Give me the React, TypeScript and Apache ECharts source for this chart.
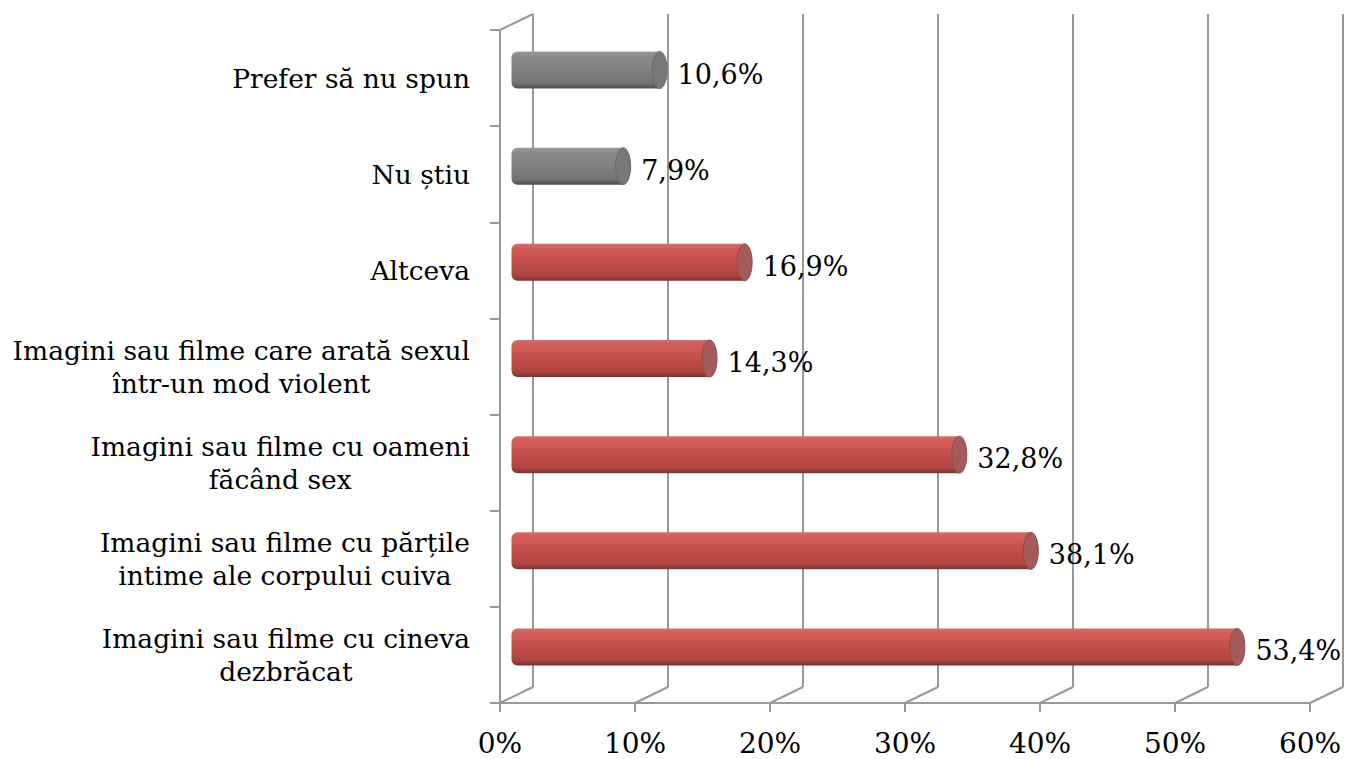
import React, { useEffect, useRef } from "react";
import * as echarts from "echarts";

const categories: string[] = [
  "Prefer să nu spun",
  "Nu știu",
  "Altceva",
  "Imagini sau filme care arată sexul\nîntr-un mod violent",
  "Imagini sau filme cu oameni\nfăcând sex",
  "Imagini sau filme cu părțile\nintime ale corpului cuiva",
  "Imagini sau filme cu cineva\ndezbrăcat",
];
const values: number[] = [10.6, 7.9, 16.9, 14.3, 32.8, 38.1, 53.4];
const isGrey: boolean[] = [true, true, false, false, false, false, false];
const xTicks: number[] = [0, 10, 20, 30, 40, 50, 60];

const FONT = "DejaVu Serif";
const LINE = "#999999";
const DX = 33;
const DY = 16;

export default function App() {
  const ref = useRef<HTMLDivElement>(null);
  useEffect(() => {
    if (!ref.current) return;
    const chart = echarts.init(ref.current, null, { renderer: "svg" });
    const fmt = (v: number) => v.toFixed(1).replace(".", ",") + "%";
    const redGrad = new echarts.graphic.LinearGradient(0, 0, 0, 1, [
      { offset: 0, color: "#d26c68" },
      { offset: 0.12, color: "#d35d59" },
      { offset: 0.5, color: "#c24f4c" },
      { offset: 0.85, color: "#ad4542" },
      { offset: 1, color: "#7a3230" },
    ]);
    const greyGrad = new echarts.graphic.LinearGradient(0, 0, 0, 1, [
      { offset: 0, color: "#9a9a9a" },
      { offset: 0.12, color: "#8c8c8c" },
      { offset: 0.5, color: "#808080" },
      { offset: 0.85, color: "#737373" },
      { offset: 1, color: "#4f4f4f" },
    ]);
    const option: any = {
      animation: false,
      backgroundColor: "#ffffff",
      grid: [
        { left: 500, top: 30, width: 810, height: 673 },
        { left: 500 + DX, top: 30 - DY, width: 810, height: 673 },
        { left: 500 + DX / 2, top: 30 - DY / 2, width: 810, height: 673 },
      ],
      xAxis: [
        {
          gridIndex: 0,
          type: "value",
          min: 0,
          max: 60,
          interval: 10,
          axisLine: { show: true, lineStyle: { color: LINE, width: 2 } },
          axisTick: { show: true, length: 9, lineStyle: { color: LINE, width: 2 } },
          splitLine: { show: false },
          axisLabel: {
            formatter: "{value}%",
            fontFamily: FONT,
            fontSize: 28,
            color: "#000",
            margin: 26,
          },
        },
        {
          gridIndex: 1,
          type: "value",
          min: 0,
          max: 60,
          interval: 10,
          axisLine: { show: false },
          axisTick: { show: false },
          axisLabel: { show: false },
          splitLine: { show: true, lineStyle: { color: LINE, width: 2 } },
        },
        {
          gridIndex: 2,
          type: "value",
          min: 0,
          max: 60,
          interval: 10,
          show: false,
        },
      ],
      yAxis: [
        {
          gridIndex: 0,
          type: "category",
          data: categories,
          inverse: true,
          axisLine: { show: true, lineStyle: { color: LINE, width: 2 } },
          axisTick: { show: true, length: 10, lineStyle: { color: LINE, width: 2 } },
          axisLabel: {
            margin: 30,
            color: "#000",
            fontFamily: FONT,
            fontSize: 26.5,
            lineHeight: 33,
            formatter: (s: string) =>
              s
                .split("\n")
                .map((l) => "{c|" + l + "}")
                .join("\n"),
            rich: {
              c: {
                align: "center",
                fontFamily: FONT,
                fontSize: 26.5,
                lineHeight: 33,
                color: "#000",
              },
            },
          },
        },
        {
          gridIndex: 1,
          type: "category",
          data: categories,
          inverse: true,
          show: false,
        },
        {
          gridIndex: 2,
          type: "category",
          data: categories,
          inverse: true,
          show: false,
        },
      ],
      series: [
        {
          type: "custom",
          xAxisIndex: 0,
          yAxisIndex: 0,
          silent: true,
          data: xTicks.map((t) => [t, 0]),
          encode: { x: 0, y: 1 },
          renderItem: (params: any, api: any) => {
            const p = api.coord([api.value(0), 0]);
            const cs = params.coordSys;
            const bottom = cs.y + cs.height;
            const children: any[] = [
              {
                type: "line",
                shape: { x1: p[0], y1: bottom, x2: p[0] + DX, y2: bottom - DY },
                style: { stroke: LINE, lineWidth: 2 },
              },
            ];
            if (params.dataIndex === 0) {
              children.push({
                type: "line",
                shape: { x1: cs.x, y1: cs.y, x2: cs.x + DX, y2: cs.y - DY },
                style: { stroke: LINE, lineWidth: 2 },
              });
            }
            return { type: "group", children };
          },
          z: 1,
        },
        {
          type: "custom",
          xAxisIndex: 2,
          yAxisIndex: 2,
          data: values.map((v, i) => [v, i]),
          encode: { x: 0, y: 1 },
          clip: false,
          renderItem: (params: any, api: any) => {
            const v = api.value(0);
            const i = api.value(1);
            const s = api.coord([0, i]);
            const e = api.coord([v, i]);
            const h = 37;
            const cy = s[1];
            const grey = isGrey[params.dataIndex];
            return {
              type: "group",
              children: [
                {
                  type: "rect",
                  shape: { x: s[0] - 5, y: cy - h / 2, width: e[0] - s[0] + 5, height: h, r: [6, 0, 0, 6] },
                  style: { fill: grey ? greyGrad : redGrad },
                },
                {
                  type: "ellipse",
                  shape: { cx: e[0], cy: cy, rx: 7.5, ry: h / 2 },
                  style: { fill: grey ? "#787878" : "#a45c5a", stroke: grey ? "#6a6a6a" : "#944c4a", lineWidth: 1 },
                },
                {
                  type: "text",
                  style: {
                    x: e[0] + 18,
                    y: cy + 4,
                    text: fmt(v),
                    fontFamily: FONT,
                    fontSize: 27,
                    fill: "#000",
                    align: "left",
                    verticalAlign: "middle",
                  },
                },
              ],
            };
          },
          z: 3,
        },
      ],
    };
    chart.setOption(option);
    return () => chart.dispose();
  }, []);
  return (
    <div
      ref={ref}
      style={{ position: "fixed", left: 0, top: 0, width: 1347, height: 759, background: "#fff" }}
    />
  );
}
